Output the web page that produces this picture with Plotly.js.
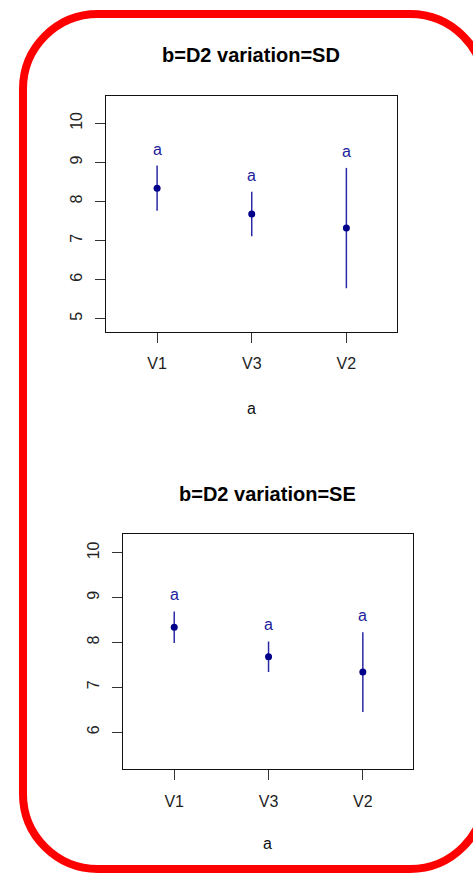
<!DOCTYPE html>
<html>
<head>
<meta charset="utf-8">
<script src="https://cdn.plot.ly/plotly-3.0.1.min.js"></script>
<style>
html,body{margin:0;padding:0;background:#fff;}
#chart{width:473px;height:876px;}
</style>
</head>
<body>
<div id="chart"></div>
<script>
// ---- data ----
var categories = ["V1", "V3", "V2"];
var meansSD = [8.34, 7.68, 7.32];
var errSD = [0.58, 0.57, 1.54];
var meansSE = [8.34, 7.68, 7.34];
var errSE = [0.35, 0.34, 0.89];
var lettersSD = ["a", "a", "a"];
var lettersSE = ["a", "a", "a"];
var yTicksSD = [5, 6, 7, 8, 9, 10];
var yTicksSE = [6, 7, 8, 9, 10];
var titleSD = "b=D2 variation=SD";
var titleSE = "b=D2 variation=SE";
var xTitle = "a";

var W = 473, H = 876;
function px(x){ return x / W; }
function py(y){ return 1 - y / H; }

var FONT = "Liberation Sans, Arial, sans-serif";
var navy = "#00008B";

var xpos = categories.map(function(c, i){ return i + 1; });

function trace(means, errs, xa, ya){
  return {
    type: "scatter", mode: "markers",
    x: xpos, y: means, xaxis: xa, yaxis: ya,
    marker: {color: navy, size: 7},
    error_y: {type: "data", array: errs, symmetric: true, visible: true,
              color: "#2a2aa6", thickness: 1.5, width: 0},
    hoverinfo: "skip", showlegend: false
  };
}

var traces = [trace(meansSD, errSD, "x", "y"), trace(meansSE, errSE, "x2", "y2")];

var annotations = [];
// letter offsets above error bars (in data units)
var offSD = 0.42, offSE = 0.38;
categories.forEach(function(c, i){
  annotations.push({xref: "x", yref: "y", x: xpos[i], y: meansSD[i] + errSD[i] + offSD,
    text: lettersSD[i], showarrow: false, font: {family: FONT, size: 16, color: "#1c1c9c"},
    xanchor: "center", yanchor: "middle"});
  annotations.push({xref: "x2", yref: "y2", x: xpos[i], y: meansSE[i] + errSE[i] + offSE,
    text: lettersSE[i], showarrow: false, font: {family: FONT, size: 16, color: "#1c1c9c"},
    xanchor: "center", yanchor: "middle"});
});
annotations.push({xref: "paper", yref: "paper", x: px(251), y: py(55), text: "<b>" + titleSD + "</b>",
  showarrow: false, font: {family: FONT, size: 20, color: "#000"}, xanchor: "center", yanchor: "middle"});
annotations.push({xref: "paper", yref: "paper", x: px(267), y: py(494), text: "<b>" + titleSE + "</b>",
  showarrow: false, font: {family: FONT, size: 20, color: "#000"}, xanchor: "center", yanchor: "middle"});
annotations.push({xref: "paper", yref: "paper", x: px(251), y: py(408), text: xTitle,
  showarrow: false, font: {family: FONT, size: 16, color: "#111"}, xanchor: "center", yanchor: "middle"});
annotations.push({xref: "paper", yref: "paper", x: px(267), y: py(843), text: xTitle,
  showarrow: false, font: {family: FONT, size: 16, color: "#111"}, xanchor: "center", yanchor: "middle"});

function xaxis(domain, anchor){
  return {domain: domain, anchor: anchor, range: [0.46, 3.535], tickmode: "array",
    tickvals: xpos, ticktext: categories, ticks: "outside", ticklen: 10, tickwidth: 1, tickcolor: "#333",
    ticklabelstandoff: 7,
    showline: true, mirror: true, linecolor: "#111", linewidth: 1, showgrid: false, zeroline: false,
    tickfont: {family: FONT, size: 16, color: "#222"}, fixedrange: true};
}
function yaxis(domain, anchor, range, ticks){
  return {domain: domain, anchor: anchor, range: range, tickmode: "array", tickvals: ticks,
    ticks: "outside", ticklen: 10, tickwidth: 1, tickcolor: "#333", tickangle: -90,
    ticklabelstandoff: 7,
    showline: true, mirror: true, linecolor: "#111", linewidth: 1, showgrid: false, zeroline: false,
    tickfont: {family: FONT, size: 16, color: "#222"}, fixedrange: true};
}

// rounded red border (paper coords = whole figure since margins are 0)
var L = 23, T = 14, R = 485, B = 869, r = 75, k = 0.5523 * r;
function P(x, y){ return px(x).toFixed(5) + "," + py(y).toFixed(5); }
var path = "M " + P(L + r, T) +
  " L " + P(R - r, T) +
  " C " + P(R - r + k, T) + " " + P(R, T + r - k) + " " + P(R, T + r) +
  " L " + P(R, B - r) +
  " C " + P(R, B - r + k) + " " + P(R - r + k, B) + " " + P(R - r, B) +
  " L " + P(L + r, B) +
  " C " + P(L + r - k, B) + " " + P(L, B - r + k) + " " + P(L, B - r) +
  " L " + P(L, T + r) +
  " C " + P(L, T + r - k) + " " + P(L + r - k, T) + " " + P(L + r, T) + " Z";

var layout = {
  width: W, height: H,
  margin: {l: 0, r: 0, t: 0, b: 0},
  paper_bgcolor: "#fff", plot_bgcolor: "#fff",
  showlegend: false,
  font: {family: FONT},
  xaxis: xaxis([px(106), px(397)], "y"),
  yaxis: yaxis([py(332), py(96)], "x", [4.66, 10.70], yTicksSD),
  xaxis2: xaxis([px(123.3), px(413.3)], "y2"),
  yaxis2: yaxis([py(769.3), py(534)], "x2", [5.17, 10.42], yTicksSE),
  annotations: annotations,
  shapes: [{type: "path", xref: "paper", yref: "paper", path: path,
    line: {color: "#ff0000", width: 8}, fillcolor: "rgba(0,0,0,0)", layer: "above"}]
};

Plotly.newPlot("chart", traces, layout, {staticPlot: true, displayModeBar: false});
</script>
</body>
</html>
